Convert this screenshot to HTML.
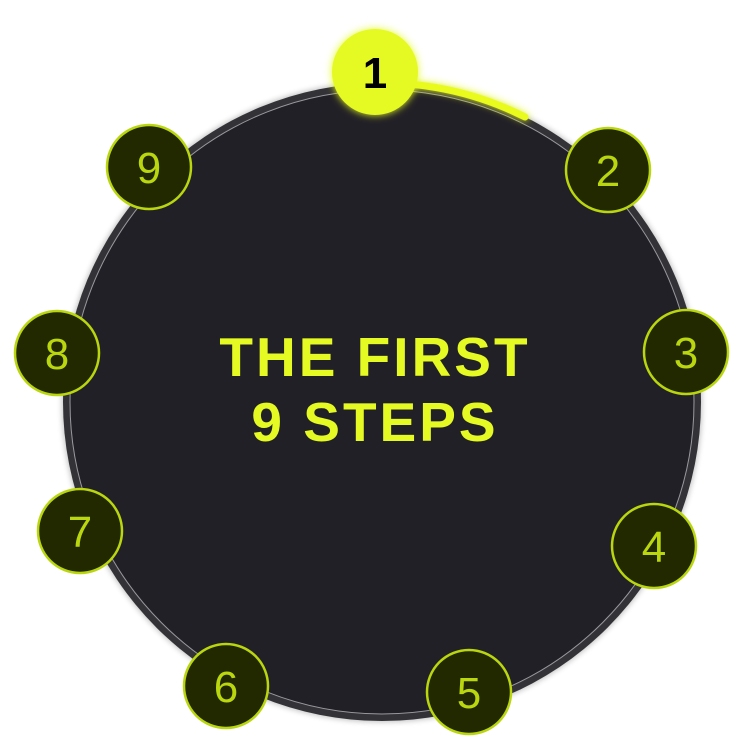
<!DOCTYPE html>
<html><head><style>html,body{margin:0;background:#fff;}svg{display:block}</style></head>
<body>
<svg width="750" height="750" viewBox="0 0 750 750" xmlns="http://www.w3.org/2000/svg">
<defs>
<filter id="glow" x="-50%" y="-50%" width="200%" height="200%"><feGaussianBlur stdDeviation="4" result="b"/><feMerge><feMergeNode in="b"/><feMergeNode in="SourceGraphic"/></feMerge></filter>
<filter id="sh" x="-20%" y="-20%" width="140%" height="140%"><feGaussianBlur stdDeviation="3"/></filter>
</defs>
<circle cx="382" cy="402" r="320" fill="#000" opacity="0.25" filter="url(#sh)"/>
<circle cx="382" cy="402" r="319" fill="#333236"/>
<circle cx="382" cy="402" r="312" fill="#222027" stroke="#9a9a9e" stroke-width="1"/>
<path d="M382 83 A319 319 0 0 1 525 117" fill="none" stroke="#e8fb1e" stroke-width="7" stroke-linecap="round" filter="url(#glow)"/>
<g font-family="'Liberation Sans',sans-serif" font-size="44" text-anchor="middle" fill="#b9d60e">
<circle cx="375" cy="72" r="43" fill="#e5fa22" filter="url(#glow)"/>
<text x="375" y="88" fill="#000" font-weight="bold">1</text>
<g stroke="#b9d60e" stroke-width="2.5">
<circle cx="608" cy="170" r="42" fill="#222800"/>
<circle cx="686" cy="352" r="42" fill="#222800"/>
<circle cx="654" cy="546" r="42" fill="#222800"/>
<circle cx="469" cy="692" r="42" fill="#222800"/>
<circle cx="226" cy="686" r="42" fill="#222800"/>
<circle cx="80" cy="531" r="42" fill="#222800"/>
<circle cx="57" cy="353" r="42" fill="#222800"/>
<circle cx="149" cy="167" r="42" fill="#222800"/>
</g>
<text x="608" y="186">2</text>
<text x="686" y="368">3</text>
<text x="654" y="562">4</text>
<text x="469" y="708">5</text>
<text x="226" y="702">6</text>
<text x="80" y="547">7</text>
<text x="57" y="369">8</text>
<text x="149" y="183">9</text>
</g>
<g font-family="'Liberation Sans',sans-serif" font-weight="bold" font-size="55" letter-spacing="3" text-anchor="middle" fill="#e5fa22">
<text x="375" y="376">THE FIRST</text>
<text x="375" y="441">9 STEPS</text>
</g>
</svg>
</body></html>
